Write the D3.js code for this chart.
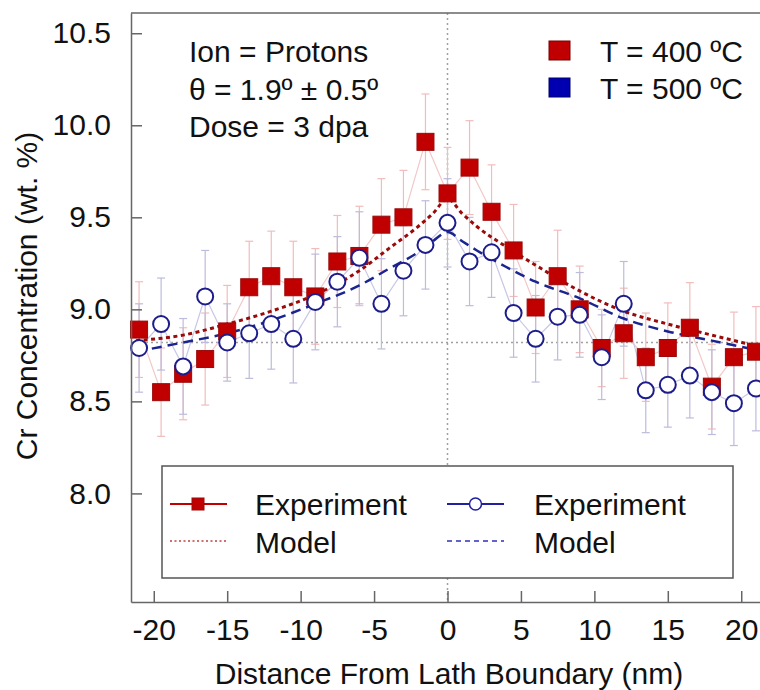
<!DOCTYPE html>
<html>
<head>
<meta charset="utf-8">
<script src="https://cdn.jsdelivr.net/npm/d3@7"></script>
<style>
  html, body { margin: 0; padding: 0; background: #fff; }
  svg { display: block; font-family: "Liberation Sans", Arial, sans-serif; }
</style>
</head>
<body>
<svg id="chart" width="760" height="690"></svg>
<script>
// Distance from the lath boundary (nm) for each measured point
const distance = [-21, -19.5, -18, -16.5, -15, -13.5, -12, -10.5, -9, -7.5, -6, -4.5, -3, -1.5,
  0, 1.5, 3, 4.5, 6, 7.5, 9, 10.5, 12, 13.5, 15, 16.5, 18, 19.5, 21];

// Measured Cr concentration (wt. %), T = 400 ºC
const cr400 = [8.89, 8.55, 8.65, 8.73, 8.88, 9.12, 9.18, 9.12, 9.07, 9.26, 9.29, 9.46, 9.50, 9.91,
  9.63, 9.77, 9.53, 9.32, 9.01, 9.18, 9.00, 8.79, 8.87, 8.74, 8.79, 8.90, 8.58, 8.74, 8.77];
const err400 = [0.26, 0.24, 0.25, 0.25, 0.25, 0.25, 0.245, 0.25, 0.26, 0.25, 0.27, 0.25, 0.255, 0.26,
  0.25, 0.255, 0.255, 0.25, 0.25, 0.25, 0.235, 0.21, 0.245, 0.24, 0.245, 0.245, 0.23, 0.245, 0.245];

// Measured Cr concentration (wt. %), T = 500 ºC
const cr500 = [8.79, 8.92, 8.69, 9.07, 8.82, 8.87, 8.92, 8.84, 9.04, 9.15, 9.28, 9.03, 9.21, 9.35,
  9.47, 9.26, 9.31, 8.98, 8.84, 8.96, 8.97, 8.74, 9.03, 8.56, 8.59, 8.64, 8.55, 8.49, 8.57];
const err500 = [0.24, 0.25, 0.26, 0.25, 0.21, 0.245, 0.245, 0.24, 0.26, 0.245, 0.25, 0.245, 0.245, 0.24,
  0.24, 0.24, 0.245, 0.24, 0.235, 0.235, 0.23, 0.23, 0.23, 0.23, 0.23, 0.23, 0.23, 0.23, 0.23];

// Model profiles
const modelX = [-21.2, -18, -15, -12, -9, -6, -4, -2, -1, 0, 1, 2, 4, 6, 9, 12, 15, 18, 21.6];
const model400 = [8.83, 8.86, 8.92, 8.99, 9.08, 9.21, 9.33, 9.45, 9.52, 9.60, 9.52, 9.45, 9.34, 9.24, 9.10, 8.99, 8.92, 8.86, 8.79];
const model500 = [8.77, 8.82, 8.87, 8.94, 9.03, 9.13, 9.22, 9.31, 9.37, 9.42, 9.37, 9.32, 9.23, 9.15, 9.06, 8.95, 8.88, 8.83, 8.77];

// Reference lines: boundary position and bulk composition
const boundaryX = 0;
const bulkCr = 8.82;

const xTicks = [-20, -15, -10, -5, 0, 5, 10, 15, 20];
const yTicks = [8.0, 8.5, 9.0, 9.5, 10.0, 10.5];

const annotation = ["Ion = Protons", "θ = 1.9º ± 0.5º", "Dose = 3 dpa"];
const tempLegend = ["T = 400 ºC", "T = 500 ºC"];

const svg = d3.select("#chart");
const plotL = 131, plotR = 764, plotT = 13, plotB = 602;
const FONT = 30;

const x = d3.scaleLinear().domain([-21.55, 21.55]).range([plotL, plotR]);
const y = d3.scaleLinear().domain([7.41, 10.61]).range([plotB, plotT]);

const RED = "#c00000", RED_DARK = "#9a0a0a";
const BLUE = "#1c1c8c", BLUE_FILL = "#0000b0";
const AXIS = "#666";

// reference lines
svg.append("line")
  .attr("x1", x(boundaryX)).attr("x2", x(boundaryX))
  .attr("y1", plotT).attr("y2", plotB)
  .attr("stroke", "#a0a0a0").attr("stroke-width", 1.5).attr("stroke-dasharray", "2,3");
svg.append("line")
  .attr("x1", plotL).attr("x2", plotR)
  .attr("y1", y(bulkCr)).attr("y2", y(bulkCr))
  .attr("stroke", "#a0a0a0").attr("stroke-width", 1.5).attr("stroke-dasharray", "2,3");

const pts400 = distance.map((d, i) => ({ x: d, y: cr400[i], e: err400[i] }));
const pts500 = distance.map((d, i) => ({ x: d, y: cr500[i], e: err500[i] }));

const line = d3.line().x(d => x(d.x)).y(d => y(d.y));

function errorBars(pts, color) {
  const g = svg.append("g").attr("stroke", color).attr("stroke-width", 1.2).attr("fill", "none");
  pts.forEach(p => {
    const cx = x(p.x), y0 = y(p.y - p.e), y1 = y(p.y + p.e);
    g.append("line").attr("x1", cx).attr("x2", cx).attr("y1", y0).attr("y2", y1);
    g.append("line").attr("x1", cx - 4).attr("x2", cx + 4).attr("y1", y0).attr("y2", y0);
    g.append("line").attr("x1", cx - 4).attr("x2", cx + 4).attr("y1", y1).attr("y2", y1);
  });
}

// error bars and connecting lines
errorBars(pts400, "#f2bcbc");
errorBars(pts500, "#bcbcdc");
svg.append("path").datum(pts400).attr("d", line)
  .attr("fill", "none").attr("stroke", "#f2c8c8").attr("stroke-width", 1.2);
svg.append("path").datum(pts500).attr("d", line)
  .attr("fill", "none").attr("stroke", "#c8c8e6").attr("stroke-width", 1.2);

// model curves
const mLine = d3.line().curve(d3.curveMonotoneX).x(d => x(d.x)).y(d => y(d.y));
svg.append("path").datum(modelX.map((m, i) => ({ x: m, y: model400[i] })))
  .attr("d", mLine).attr("fill", "none")
  .attr("stroke", RED_DARK).attr("stroke-width", 3).attr("stroke-dasharray", "4,3.5");
svg.append("path").datum(modelX.map((m, i) => ({ x: m, y: model500[i] })))
  .attr("d", mLine).attr("fill", "none")
  .attr("stroke", "#1a2590").attr("stroke-width", 2.5).attr("stroke-dasharray", "10,6");

// markers
const SQ = 17;
svg.append("g").selectAll("rect").data(pts400).join("rect")
  .attr("x", d => x(d.x) - SQ / 2).attr("y", d => y(d.y) - SQ / 2)
  .attr("width", SQ).attr("height", SQ)
  .attr("fill", RED).attr("stroke", RED_DARK).attr("stroke-width", 1);
svg.append("g").selectAll("circle").data(pts500).join("circle")
  .attr("cx", d => x(d.x)).attr("cy", d => y(d.y)).attr("r", 8)
  .attr("fill", "#fff").attr("stroke", BLUE).attr("stroke-width", 2);

// axes
const yAxis = d3.axisLeft(y).tickValues(yTicks).tickFormat(d3.format(".1f"))
  .tickSizeInner(-11).tickSizeOuter(0).tickPadding(20);
const xAxis = d3.axisBottom(x).tickValues(xTicks).tickFormat(d => String(d))
  .tickSizeInner(-11).tickSizeOuter(0).tickPadding(17);

function styleAxis(g) {
  g.select(".domain").attr("stroke", AXIS).attr("stroke-width", 1.5);
  g.selectAll(".tick line").attr("stroke", AXIS).attr("stroke-width", 1.5);
  g.selectAll(".tick text").attr("fill", "#111").style("font-size", FONT + "px")
    .style("font-family", "'Liberation Sans', Arial, sans-serif");
}
svg.append("g").attr("transform", `translate(${plotL},0)`).call(yAxis).call(styleAxis);
svg.append("g").attr("transform", `translate(0,${plotB})`).call(xAxis).call(styleAxis);
svg.append("line").attr("x1", plotL).attr("x2", plotR).attr("y1", plotT).attr("y2", plotT)
  .attr("stroke", AXIS).attr("stroke-width", 1.5);

// axis titles
svg.append("text").attr("x", 449).attr("y", 684).attr("text-anchor", "middle")
  .attr("fill", "#111").style("font-size", FONT + "px")
  .text("Distance From Lath Boundary (nm)");
svg.append("text").attr("transform", "translate(37,296) rotate(-90)").attr("text-anchor", "middle")
  .attr("fill", "#111").style("font-size", FONT + "px")
  .text("Cr Concentration (wt. %)");

// condition annotation
svg.append("g").selectAll("text").data(annotation).join("text")
  .attr("x", 189).attr("y", (d, i) => 62 + i * 37.5)
  .attr("fill", "#111").style("font-size", FONT + "px").text(d => d);

// temperature legend
const tl = svg.append("g");
[RED, BLUE_FILL].forEach((c, i) => {
  tl.append("rect").attr("x", 549).attr("y", 41 + i * 37).attr("width", 21).attr("height", 19)
    .attr("fill", c).attr("stroke", i === 0 ? "#7a0000" : "#000070").attr("stroke-width", 1);
  tl.append("text").attr("x", 600).attr("y", 62 + i * 37).attr("fill", "#111")
    .style("font-size", FONT + "px").text(tempLegend[i]);
});

// series legend
const lg = svg.append("g");
lg.append("rect").attr("x", 162).attr("y", 466).attr("width", 571).attr("height", 112)
  .attr("fill", "#fff").attr("stroke", "#555").attr("stroke-width", 1.5);
const entries = [
  { x0: 170, color: RED, textX: 255, kind: "square", dash: "2,2.5", mw: 1.5 },
  { x0: 447, color: "#2020a0", textX: 534, kind: "circle", dash: "5,4", mw: 1.5 }
];
entries.forEach(e => {
  lg.append("line").attr("x1", e.x0).attr("x2", e.x0 + 57).attr("y1", 504).attr("y2", 504)
    .attr("stroke", e.color).attr("stroke-width", 2);
  if (e.kind === "square") {
    lg.append("rect").attr("x", e.x0 + 22).attr("y", 498).attr("width", 12).attr("height", 12)
      .attr("fill", RED).attr("stroke", RED_DARK);
  } else {
    lg.append("circle").attr("cx", e.x0 + 28.5).attr("cy", 504).attr("r", 6)
      .attr("fill", "#fff").attr("stroke", e.color).attr("stroke-width", 1.5);
  }
  lg.append("line").attr("x1", e.x0).attr("x2", e.x0 + 57).attr("y1", 541).attr("y2", 541)
    .attr("stroke", e.kind === "square" ? "#c04040" : "#3030c0").attr("stroke-width", e.mw)
    .attr("stroke-dasharray", e.dash);
  lg.append("text").attr("x", e.textX).attr("y", 515).attr("fill", "#111")
    .style("font-size", FONT + "px").text("Experiment");
  lg.append("text").attr("x", e.textX).attr("y", 553).attr("fill", "#111")
    .style("font-size", FONT + "px").text("Model");
});
</script>
</body>
</html>
